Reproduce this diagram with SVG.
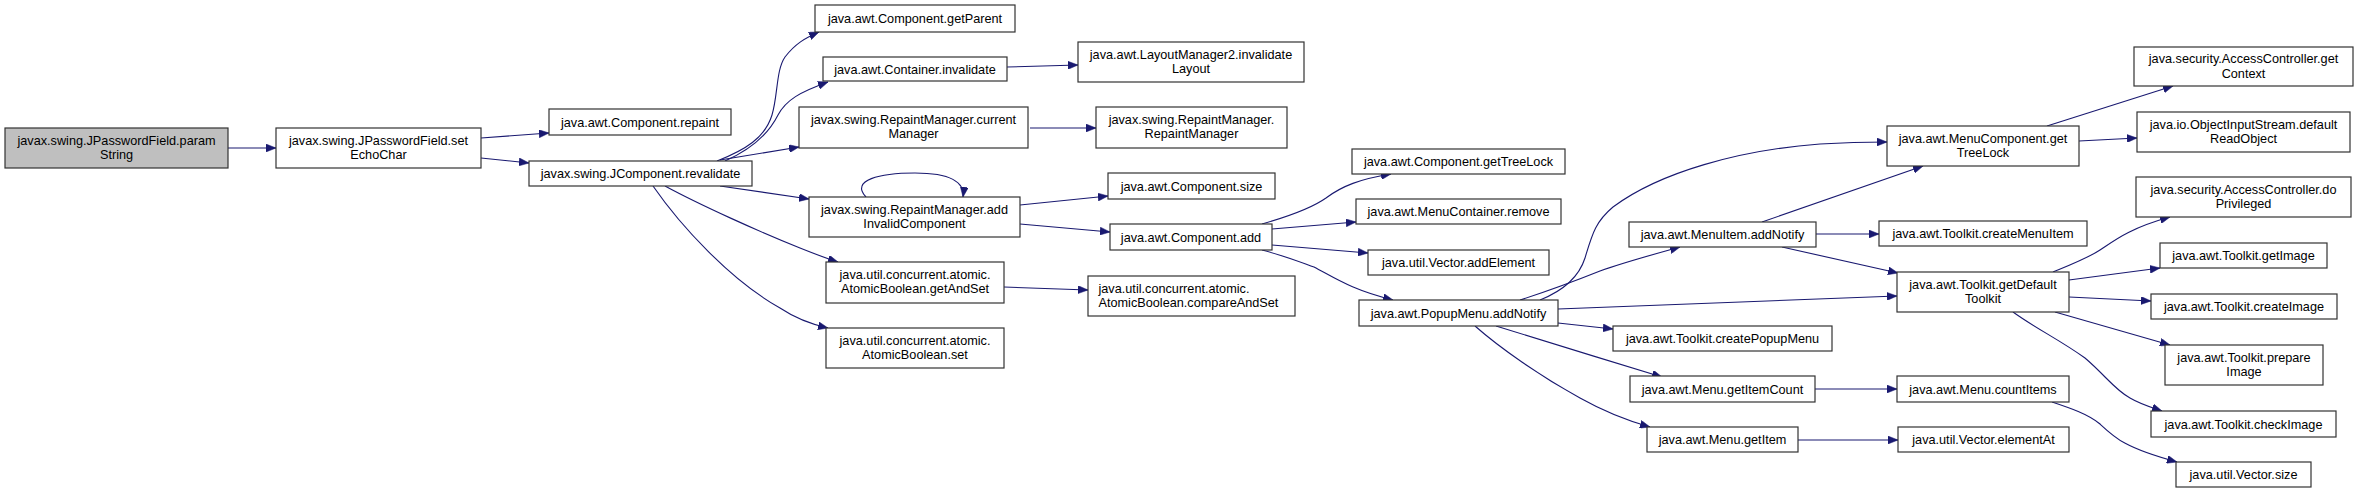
<svg xmlns="http://www.w3.org/2000/svg" width="2359" height="493" viewBox="0 0 2359 493">
<style>
.n rect{fill:#ffffff;stroke:#333333;stroke-width:1.2}
.n.root rect{fill:#bfbfbf}
.n text{font-family:"Liberation Sans",Arial,sans-serif;font-size:12.7px;fill:#000000;text-anchor:middle}
.e path{fill:none;stroke:#191970;stroke-width:1.1;marker-end:url(#arr)}
</style>
<defs>
<marker id="arr" markerUnits="userSpaceOnUse" markerWidth="11" markerHeight="8" refX="10" refY="4" orient="auto">
<path d="M0,0 L10,4 L0,8 z" fill="#191970" stroke="#191970" stroke-width="0.5"/>
</marker>
</defs>
<rect width="2359" height="493" fill="#ffffff"/>
<g id="connectors" class="e">
<path d="M228,148 L276,148"/>
<path d="M481,138 L549,133"/>
<path d="M481,158 L529,163"/>
<path d="M717,161 C745,150 765,138 772,115 C778,95 776,70 785,57 C795,44 805,38 819,32"/>
<path d="M725,161 C750,150 768,135 778,115 C786,100 800,92 828,82"/>
<path d="M720,160 L799,147"/>
<path d="M720,186 L809,199"/>
<path d="M665,186 C700,205 760,232 800,248 C815,254 825,258 838,262"/>
<path d="M653,186 C680,225 730,280 780,308 C795,318 810,324 828,328"/>
<path d="M1007,67 L1078,65"/>
<path d="M1030,128 L1096,128"/>
<path d="M866,197 C850,180 880,173 915,173 C950,173 965,182 963,197"/>
<path d="M1020,205 L1108,196"/>
<path d="M1020,224 L1110,232"/>
<path d="M1004,287 L1088,290"/>
<path d="M1262,224 C1290,216 1312,208 1326,198 C1342,186 1360,179 1391,174"/>
<path d="M1272,229 L1356,222"/>
<path d="M1272,245 L1368,253"/>
<path d="M1262,250 C1285,256 1300,262 1314,267 C1335,278 1352,290 1393,300"/>
<path d="M1540,300 C1560,292 1578,280 1585,258 C1592,235 1595,222 1613,207 C1660,172 1740,150 1820,144 C1845,142.5 1865,142 1887,142"/>
<path d="M1520,300 C1545,292 1575,281 1600,271 C1625,262 1655,254 1680,247"/>
<path d="M1558,309 L1897,296"/>
<path d="M1558,323 L1613,329"/>
<path d="M1496,326 C1540,340 1610,361 1662,377"/>
<path d="M1475,326 C1500,348 1540,376 1580,398 C1605,412 1625,420 1650,427"/>
<path d="M1762,222 L1923,166"/>
<path d="M1816,234 L1879,234"/>
<path d="M1782,247 L1898,273"/>
<path d="M2047,126 L2173,86"/>
<path d="M2079,141 L2137,138"/>
<path d="M2053,272 C2070,265 2088,258 2100,250 C2115,240 2130,228 2170,217"/>
<path d="M2069,280 L2160,268"/>
<path d="M2069,297 L2151,301"/>
<path d="M2055,312 L2170,345"/>
<path d="M2013,312 C2035,328 2060,340 2085,358 C2105,375 2115,390 2130,398 C2140,404 2150,407 2162,411"/>
<path d="M1815,389 L1897,389"/>
<path d="M1798,440 L1898,440"/>
<path d="M2052,402 C2070,408 2088,414 2100,424 C2115,438 2125,448 2177,462"/>
</g>
<g id="n0" class="n root"><rect x="5" y="128" width="223" height="40"/><text x="116.5" y="144.5">javax.swing.JPasswordField.param</text><text x="116.5" y="159">String</text></g>
<g id="n1" class="n"><rect x="276" y="128" width="205" height="40"/><text x="378.5" y="144.5">javax.swing.JPasswordField.set</text><text x="378.5" y="159">EchoChar</text></g>
<g id="n2" class="n"><rect x="549" y="109" width="182" height="26"/><text x="640" y="126.5">java.awt.Component.repaint</text></g>
<g id="n3" class="n"><rect x="529" y="161" width="223" height="25"/><text x="640.5" y="178">javax.swing.JComponent.revalidate</text></g>
<g id="n4" class="n"><rect x="815" y="5" width="200" height="27"/><text x="915" y="23">java.awt.Component.getParent</text></g>
<g id="n5" class="n"><rect x="823" y="57" width="184" height="24"/><text x="915" y="73.5">java.awt.Container.invalidate</text></g>
<g id="n6" class="n"><rect x="799" y="107" width="229" height="41"/><text x="913.5" y="123.5">javax.swing.RepaintManager.current</text><text x="913.5" y="138">Manager</text></g>
<g id="n7" class="n"><rect x="809" y="197" width="211" height="40"/><text x="914.5" y="213.5">javax.swing.RepaintManager.add</text><text x="914.5" y="228">InvalidComponent</text></g>
<g id="n8" class="n"><rect x="826" y="262" width="178" height="41"/><text x="915" y="278.5">java.util.concurrent.atomic.</text><text x="915" y="293">AtomicBoolean.getAndSet</text></g>
<g id="n9" class="n"><rect x="826" y="328" width="178" height="40"/><text x="915" y="344.5">java.util.concurrent.atomic.</text><text x="915" y="359">AtomicBoolean.set</text></g>
<g id="n10" class="n"><rect x="1078" y="42" width="226" height="40"/><text x="1191" y="58.5">java.awt.LayoutManager2.invalidate</text><text x="1191" y="73">Layout</text></g>
<g id="n11" class="n"><rect x="1096" y="107" width="191" height="41"/><text x="1191.5" y="123.5">javax.swing.RepaintManager.</text><text x="1191.5" y="138">RepaintManager</text></g>
<g id="n12" class="n"><rect x="1108" y="173" width="167" height="26"/><text x="1191.5" y="190.5">java.awt.Component.size</text></g>
<g id="n13" class="n"><rect x="1110" y="224" width="162" height="26"/><text x="1191" y="241.5">java.awt.Component.add</text></g>
<g id="n14" class="n"><rect x="1088" y="276" width="207" height="40"/><text x="1098.5" y="292.5" style="text-anchor:start">java.util.concurrent.atomic.</text><text x="1098.5" y="307" style="text-anchor:start">AtomicBoolean.compareAndSet</text></g>
<g id="n15" class="n"><rect x="1352" y="149" width="213" height="25"/><text x="1458.5" y="166">java.awt.Component.getTreeLock</text></g>
<g id="n16" class="n"><rect x="1356" y="199" width="205" height="25"/><text x="1458.5" y="216">java.awt.MenuContainer.remove</text></g>
<g id="n17" class="n"><rect x="1368" y="250" width="181" height="25"/><text x="1458.5" y="267">java.util.Vector.addElement</text></g>
<g id="n18" class="n"><rect x="1359" y="300" width="199" height="26"/><text x="1458.5" y="317.5">java.awt.PopupMenu.addNotify</text></g>
<g id="n19" class="n"><rect x="1887" y="126" width="192" height="40"/><text x="1983" y="142.5">java.awt.MenuComponent.get</text><text x="1983" y="157">TreeLock</text></g>
<g id="n20" class="n"><rect x="1629" y="222" width="187" height="25"/><text x="1722.5" y="239">java.awt.MenuItem.addNotify</text></g>
<g id="n21" class="n"><rect x="1879" y="221" width="208" height="25"/><text x="1983" y="238">java.awt.Toolkit.createMenuItem</text></g>
<g id="n22" class="n"><rect x="1897" y="272" width="172" height="40"/><text x="1983" y="288.5">java.awt.Toolkit.getDefault</text><text x="1983" y="303">Toolkit</text></g>
<g id="n23" class="n"><rect x="1613" y="326" width="219" height="25"/><text x="1722.5" y="343">java.awt.Toolkit.createPopupMenu</text></g>
<g id="n24" class="n"><rect x="1630" y="376" width="185" height="26"/><text x="1722.5" y="393.5">java.awt.Menu.getItemCount</text></g>
<g id="n25" class="n"><rect x="1647" y="427" width="151" height="25"/><text x="1722.5" y="444">java.awt.Menu.getItem</text></g>
<g id="n26" class="n"><rect x="1897" y="376" width="172" height="26"/><text x="1983" y="393.5">java.awt.Menu.countItems</text></g>
<g id="n27" class="n"><rect x="1898" y="427" width="171" height="25"/><text x="1983.5" y="444">java.util.Vector.elementAt</text></g>
<g id="n28" class="n"><rect x="2134" y="47" width="219" height="39"/><text x="2243.5" y="63">java.security.AccessController.get</text><text x="2243.5" y="77.5">Context</text></g>
<g id="n29" class="n"><rect x="2137" y="112" width="213" height="40"/><text x="2243.5" y="128.5">java.io.ObjectInputStream.default</text><text x="2243.5" y="143">ReadObject</text></g>
<g id="n30" class="n"><rect x="2136" y="177" width="215" height="40"/><text x="2243.5" y="193.5">java.security.AccessController.do</text><text x="2243.5" y="208">Privileged</text></g>
<g id="n31" class="n"><rect x="2160" y="243" width="167" height="25"/><text x="2243.5" y="260">java.awt.Toolkit.getImage</text></g>
<g id="n32" class="n"><rect x="2151" y="294" width="186" height="25"/><text x="2244" y="311">java.awt.Toolkit.createImage</text></g>
<g id="n33" class="n"><rect x="2165" y="345" width="158" height="40"/><text x="2244" y="361.5">java.awt.Toolkit.prepare</text><text x="2244" y="376">Image</text></g>
<g id="n34" class="n"><rect x="2151" y="411" width="185" height="26"/><text x="2243.5" y="428.5">java.awt.Toolkit.checkImage</text></g>
<g id="n35" class="n"><rect x="2176" y="462" width="135" height="25"/><text x="2243.5" y="479">java.util.Vector.size</text></g>
</svg>
